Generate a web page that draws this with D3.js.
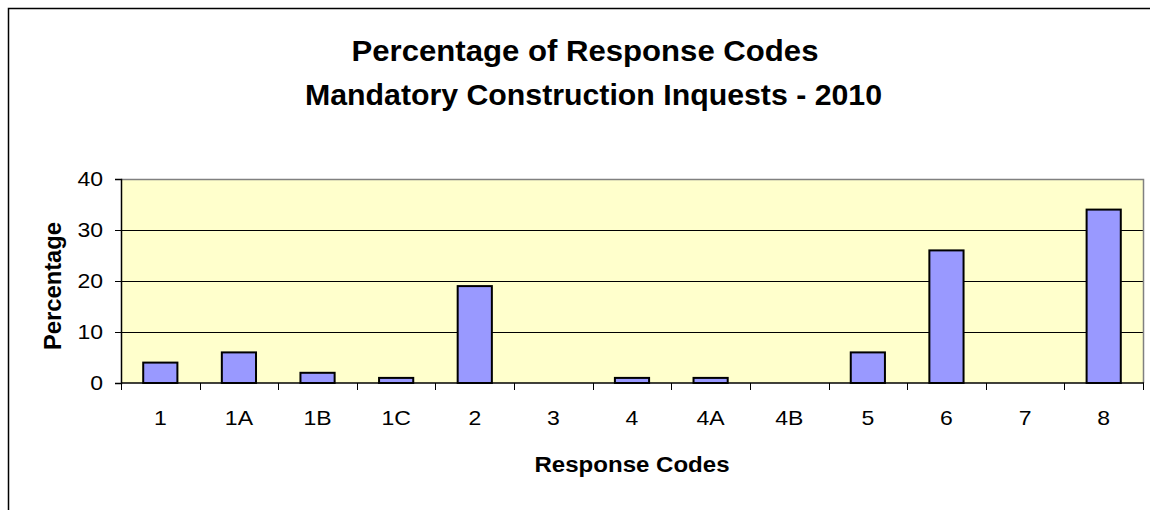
<!DOCTYPE html>
<html>
<head>
<meta charset="utf-8">
<script src="https://cdn.jsdelivr.net/npm/d3@7"></script>
<style>
  body { margin: 0; background: #fff; }
  svg { display: block; font-family: "Liberation Sans", Arial, sans-serif; }
</style>
</head>
<body>
<div id="chart"></div>
<script>
// Chart data
const codes = ['1', '1A', '1B', '1C', '2', '3', '4', '4A', '4B', '5', '6', '7', '8'];
const percentages = [4, 6, 2, 1, 19, 0, 1, 1, 0, 6, 26, 0, 34];
const yTicks = [0, 10, 20, 30, 40];

const width = 1150;
const height = 510;
const plot = { left: 121, right: 1143, top: 179, bottom: 383 };
const textStretch = 1.15; // labels in the original are drawn a bit wide

const svg = d3.select('#chart')
    .append('svg')
    .attr('width', width)
    .attr('height', height);

// Outer chart border (runs off the right and bottom)
svg.append('rect')
    .attr('x', 8.5)
    .attr('y', 8.5)
    .attr('width', width + 20)
    .attr('height', height + 20)
    .attr('fill', '#fff')
    .attr('stroke', '#000')
    .attr('stroke-width', 1.5);

// Scales
const x = d3.scaleBand()
    .domain(codes)
    .range([plot.left, plot.right])
    .paddingInner(1.3 / 2.3)
    .paddingOuter(1.3 / 2.3 / 2);

const xBounds = d3.scaleBand()
    .domain(codes)
    .range([plot.left, plot.right]);

const y = d3.scaleLinear()
    .domain([0, 40])
    .range([plot.bottom, plot.top]);

// Plot area background
svg.append('rect')
    .attr('x', plot.left)
    .attr('y', plot.top)
    .attr('width', plot.right - plot.left)
    .attr('height', plot.bottom - plot.top)
    .attr('fill', '#FFFFCC');

// Gridlines
svg.append('g')
    .selectAll('line')
    .data(yTicks.filter(d => d > 0 && d < 40))
    .enter()
    .append('line')
    .attr('x1', plot.left)
    .attr('x2', plot.right)
    .attr('y1', d => Math.round(y(d)) + 0.5)
    .attr('y2', d => Math.round(y(d)) + 0.5)
    .attr('stroke', '#000')
    .attr('stroke-width', 1);

// Plot area border top / right in gray
svg.append('path')
    .attr('d', `M${plot.left},${y(40) + 0.5}H${plot.right + 0.5}V${plot.bottom}`)
    .attr('fill', 'none')
    .attr('stroke', '#808080')
    .attr('stroke-width', 1.5);

// Bars
svg.append('g')
    .selectAll('rect')
    .data(codes.map((c, i) => ({ code: c, value: percentages[i] })))
    .enter()
    .append('rect')
    .attr('x', d => x(d.code))
    .attr('y', d => y(d.value))
    .attr('width', x.bandwidth())
    .attr('height', d => y(0) - y(d.value))
    .attr('fill', '#9999FF')
    .attr('stroke', '#000')
    .attr('stroke-width', d => d.value > 0 ? 2 : 0);

// Y axis
const yAxis = svg.append('g')
    .attr('transform', `translate(${plot.left},0)`)
    .call(d3.axisLeft(y).tickValues(yTicks).tickSize(6).tickPadding(12));
yAxis.select('.domain').attr('stroke', '#000').attr('stroke-width', 1.5);
yAxis.selectAll('text')
    .attr('x', 0)
    .attr('transform', `translate(-18,0) scale(${textStretch},1)`)
    .attr('font-size', 20)
    .attr('fill', '#000')
    .style('font-family', '"Liberation Sans", Arial, sans-serif');

// X axis: ticks at category boundaries, labels centered in bands
const xAxis = svg.append('g')
    .attr('transform', `translate(0,${plot.bottom})`);
xAxis.append('line')
    .attr('x1', plot.left)
    .attr('x2', plot.right + 1)
    .attr('stroke', '#000')
    .attr('stroke-width', 1.5);
xAxis.selectAll('.tick')
    .data(codes.concat(['end']))
    .enter()
    .append('line')
    .attr('x1', (d, i) => Math.round(plot.left + i * xBounds.step()) + 0.5)
    .attr('x2', (d, i) => Math.round(plot.left + i * xBounds.step()) + 0.5)
    .attr('y1', 0)
    .attr('y2', 7)
    .attr('stroke', '#000')
    .attr('stroke-width', 1);
xAxis.selectAll('.label')
    .data(codes)
    .enter()
    .append('text')
    .attr('transform', d => `translate(${xBounds(d) + xBounds.bandwidth() / 2},41.5) scale(${textStretch},1)`)
    .attr('text-anchor', 'middle')
    .attr('font-size', 20)
    .text(d => d);

// Titles
svg.append('text')
    .attr('x', 585)
    .attr('y', 61)
    .attr('text-anchor', 'middle')
    .attr('font-size', 29)
    .attr('font-weight', 'bold')
    .attr('textLength', 467)
    .attr('lengthAdjust', 'spacingAndGlyphs')
    .text('Percentage of Response Codes');

svg.append('text')
    .attr('x', 593.5)
    .attr('y', 105)
    .attr('text-anchor', 'middle')
    .attr('font-size', 29)
    .attr('font-weight', 'bold')
    .attr('textLength', 577)
    .attr('lengthAdjust', 'spacingAndGlyphs')
    .text('Mandatory Construction Inquests - 2010');

// Axis titles
svg.append('text')
    .attr('x', (plot.left + plot.right) / 2)
    .attr('y', 472)
    .attr('text-anchor', 'middle')
    .attr('font-size', 22)
    .attr('font-weight', 'bold')
    .attr('textLength', 195)
    .attr('lengthAdjust', 'spacingAndGlyphs')
    .text('Response Codes');

svg.append('text')
    .attr('transform', `translate(61,${(plot.top + plot.bottom) / 2 + 5}) rotate(-90)`)
    .attr('text-anchor', 'middle')
    .attr('font-size', 24)
    .attr('font-weight', 'bold')
    .attr('textLength', 128)
    .attr('lengthAdjust', 'spacingAndGlyphs')
    .text('Percentage');
</script>
</body>
</html>
